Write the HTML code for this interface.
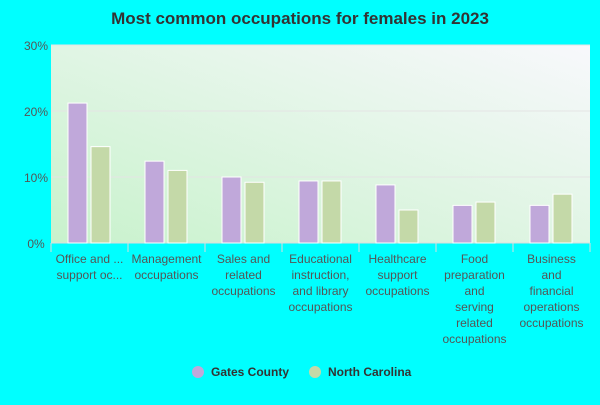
<!DOCTYPE html>
<html><head><meta charset="utf-8"><style>
body{margin:0;background:#00ffff;}
svg text{font-family:"Liberation Sans",sans-serif;}
</style></head><body>
<svg width="600" height="400" xmlns="http://www.w3.org/2000/svg">
<defs>
<linearGradient id="bg" x1="0" y1="1" x2="1" y2="0">
<stop offset="0" stop-color="#c8f2cc"/><stop offset="1" stop-color="#f8f8fc"/>
</linearGradient>
</defs>
<text x="300" y="24" text-anchor="middle" font-size="17" font-weight="bold" fill="#333">Most common occupations for females in 2023</text>
<rect x="51" y="45" width="539" height="198" fill="url(#bg)"/>
<g id="grid"></g><g id="bars"></g><g id="xlabels"></g>
<g>
<circle cx="198" cy="372" r="6" fill="#c0a8da"/>
<text x="211" y="376" font-size="12" font-weight="bold" fill="#333">Gates County</text>
<circle cx="315" cy="372" r="6" fill="#c4d9a8"/>
<text x="328" y="376" font-size="12" font-weight="bold" fill="#333">North Carolina</text>
</g>
</svg>
<script>
const categories=[["Office and ...","support oc..."],["Management","occupations"],["Sales and","related","occupations"],["Educational","instruction,","and library","occupations"],["Healthcare","support","occupations"],["Food","preparation","and","serving","related","occupations"],["Business","and","financial","operations","occupations"]];
const gates=[21.2,12.4,10.0,9.4,8.8,5.7,5.7];
const nc=[14.6,11.0,9.2,9.4,5.0,6.2,7.4];
const yTicks=[0,10,20,30];
const NS="http://www.w3.org/2000/svg";
const x0=51,cw=77,yb=243,yt=45,ymax=30;
const y=v=>yb-(v/ymax)*(yb-yt);
function mk(t,a,p){const e=document.createElementNS(NS,t);for(const k in a)e.setAttribute(k,a[k]);p.appendChild(e);return e;}
const g=document.getElementById('grid');
yTicks.forEach(v=>{
 if(v>0){const l=mk('line',{x1:x0,x2:590,y1:y(v),y2:y(v),stroke:'#e4e4e4'},g);
 
 }
 const t=mk('text',{x:36,y:y(v)+5,'text-anchor':'middle','font-size':12,fill:'#555'},g);t.textContent=v+'%';
 
 
});
mk('line',{x1:x0,x2:590,y1:yb,y2:yb,stroke:'#ddd'},g);
const b=document.getElementById('bars');
categories.forEach((c,i)=>{
 const cx=x0+i*cw;
 const r1=mk('rect',{x:cx+17,y:y(gates[i]),width:19,height:yb-y(gates[i]),fill:'#c0a8da',stroke:'#fff','stroke-width':1},b);
 
 
 const r2=mk('rect',{x:cx+40,y:y(nc[i]),width:19,height:yb-y(nc[i]),fill:'#c4d9a8',stroke:'#fff','stroke-width':1},b);
 
 
 mk('line',{x1:cx,x2:cx,y1:yb,y2:yb+9,stroke:'#ddd'},b);
});
mk('line',{x1:590,x2:590,y1:yb,y2:yb+9,stroke:'#ddd'},b);
const xl=document.getElementById('xlabels');
categories.forEach((c,i)=>{
 const t=mk('text',{x:x0+i*cw+cw/2,y:263,'text-anchor':'middle','font-size':12,fill:'#555'},xl);
 
 
 c.forEach((s,j)=>{const ts=mk('tspan',{x:x0+i*cw+cw/2,dy:j?16:0},t);ts.textContent=s;});
});
</script>
</body></html>
